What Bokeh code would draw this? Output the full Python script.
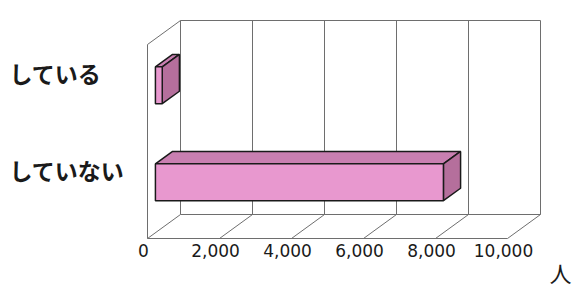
from bokeh.plotting import figure
from bokeh.models import Range1d
from bokeh.core.properties import value
from bokeh.embed import file_html
from bokeh.resources import INLINE

# ---- data ----
categories = ["していない", "している"]   # bottom to top
counts = [8000, 190]                      # 人
tick_values = [0, 2000, 4000, 6000, 8000, 10000]
tick_labels = ["0", "2,000", "4,000", "6,000", "8,000", "10,000"]
unit_label = "人"

# ---- layout (pixels) ----
W, H = 574, 289
X0 = 147            # screen x of value 0 on the front edge
S = 360 / 10000     # px per person
F = 51              # floor front edge height (y up)
DXP, DYP = 33, 24   # depth offset in px
WALL = 194          # wall height px
BAND = WALL / len(categories)
THICK = 0.38 * BAND
D0, D1 = 0.24, 0.76

DX = DXP / S

def px(v, d):
    return v + d * DX

def py(h, d):
    return F + h + d * DYP

p = figure(width=W, height=H, output_backend="svg", toolbar_location=None,
           x_range=Range1d(-X0 / S, (W - X0) / S), y_range=Range1d(0, H),
           min_border=0)
p.axis.visible = False
p.grid.visible = False
p.outline_line_color = None
p.background_fill_color = "white"

vmax = tick_values[-1]
# walls / grid
gx, gy = [], []
for t in tick_values:
    gx.append([px(t, 0), px(t, 1), px(t, 1)])
    gy.append([py(0, 0), py(0, 1), py(WALL, 1)])
gx.append([px(0, 1), px(vmax, 1)]); gy.append([py(0, 1), py(0, 1)])
gx.append([px(0, 1), px(vmax, 1)]); gy.append([py(WALL, 1), py(WALL, 1)])
gx.append([px(0, 0), px(vmax, 0)]); gy.append([py(0, 0), py(0, 0)])
gx.append([px(0, 0), px(0, 0), px(0, 1)]); gy.append([py(0, 0), py(WALL, 0), py(WALL, 1)])
p.multi_line(gx, gy, line_color="#6e6e6e", line_width=1)

# bars
fx, fy, tx, ty, sx, sy = [], [], [], [], [], []
for i, c in enumerate(counts):
    mid = (i + 0.52) * BAND
    lo, hi = mid - THICK / 2, mid + THICK / 2
    fx.append([px(0, D0), px(c, D0), px(c, D0), px(0, D0)])
    fy.append([py(lo, D0), py(lo, D0), py(hi, D0), py(hi, D0)])
    tx.append([px(0, D0), px(c, D0), px(c, D1), px(0, D1)])
    ty.append([py(hi, D0), py(hi, D0), py(hi, D1), py(hi, D1)])
    sx.append([px(c, D0), px(c, D1), px(c, D1), px(c, D0)])
    sy.append([py(lo, D0), py(lo, D1), py(hi, D1), py(hi, D0)])
p.patches(tx, ty, fill_color="#c97fb1", line_color="#1a1a1a", line_width=1.5)
p.patches(sx, sy, fill_color="#b56f9c", line_color="#1a1a1a", line_width=1.5)
p.patches(fx, fy, fill_color="#e898cf", line_color="#1a1a1a", line_width=1.5)

# category labels
lab_y = [py((i + 0.52) * BAND, 0.5) + 6 for i in range(len(categories))]
p.text(x=[(9 - X0) / S] * len(categories), y=lab_y, text=categories,
       text_font=value("Noto Sans CJK JP"), text_font_size="23px",
       text_font_style="bold", text_color="#1a1a1a",
       text_align="left", text_baseline="middle")

# tick labels
p.text(x=[t - 4 / S for t in tick_values], y=[F - 12] * len(tick_values),
       text=tick_labels, text_font=value("DejaVu Sans"), text_font_size="17px",
       text_color="#1a1a1a", text_align="center", text_baseline="middle")

# unit
p.text(x=[(549 - X0) / S], y=[2], text=[unit_label],
       text_font=value("Noto Sans CJK JP"), text_font_size="22px",
       text_color="#1a1a1a", text_align="left", text_baseline="bottom")

open("out.html", "w").write(file_html(p, INLINE))
